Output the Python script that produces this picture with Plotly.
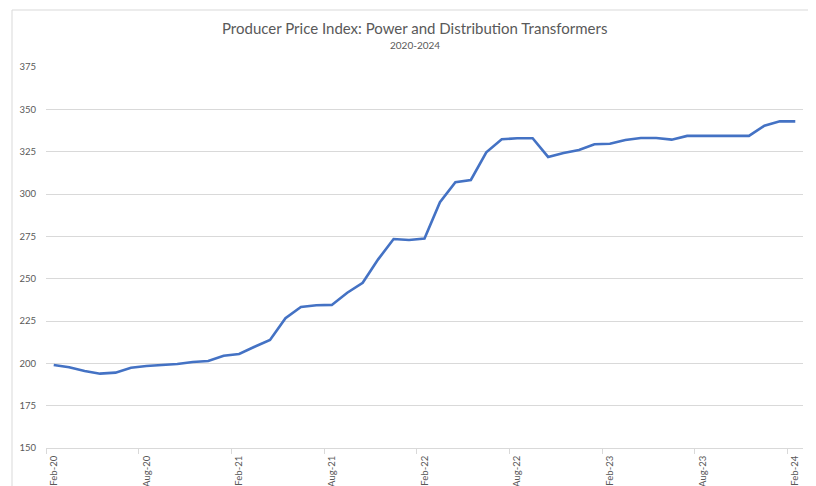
import plotly.graph_objects as go

months = ["Feb-20","Mar-20","Apr-20","May-20","Jun-20","Jul-20","Aug-20","Sep-20","Oct-20","Nov-20","Dec-20","Jan-21",
          "Feb-21","Mar-21","Apr-21","May-21","Jun-21","Jul-21","Aug-21","Sep-21","Oct-21","Nov-21","Dec-21","Jan-22",
          "Feb-22","Mar-22","Apr-22","May-22","Jun-22","Jul-22","Aug-22","Sep-22","Oct-22","Nov-22","Dec-22","Jan-23",
          "Feb-23","Mar-23","Apr-23","May-23","Jun-23","Jul-23","Aug-23","Sep-23","Oct-23","Nov-23","Dec-23","Jan-24",
          "Feb-24"]
ppi = [199.0, 197.7, 195.5, 193.9, 194.5, 197.4, 198.4, 198.8, 199.6, 200.8, 201.4, 204.5,
       205.5, 209.8, 213.8, 226.6, 233.3, 234.3, 234.5, 241.7, 247.6, 261.4, 273.4, 272.8,
       273.7, 295.2, 307.0, 308.3, 324.6, 332.3, 332.9, 332.9, 321.9, 324.2, 326.0, 329.4,
       329.7, 331.9, 333.1, 333.1, 332.1, 334.3, 334.3, 334.3, 334.3, 334.3, 340.3, 342.9,
       342.9]
y_ticks = [150, 175, 200, 225, 250, 275, 300, 325, 350, 375]

idx = list(range(len(months)))
tick_idx = idx[::6]
tick_text = [months[i] for i in tick_idx]

grey = "#595959"
fnt = "Lato"

fig = go.Figure(go.Scatter(x=idx, y=ppi, mode="lines",
                           line=dict(color="#4472C4", width=2.6), hoverinfo="skip"))

fig.update_layout(
    width=816, height=486,
    margin=dict(l=38, r=21, t=59, b=46),
    paper_bgcolor="white", plot_bgcolor="white",
    showlegend=False,
    font=dict(family=fnt, color=grey, size=9),
)
fig.update_xaxes(range=[-0.5, len(months) - 0.5], tickvals=tick_idx, ticktext=tick_text,
                 tickangle=-90, showgrid=False, zeroline=False, automargin=False,
                 showline=True, linecolor="#D9D9D9", linewidth=1,
                 ticks="", ticklabelstandoff=3, tickfont=dict(size=9.5, color=grey),
                 minor=dict(tick0=-0.5, dtick=6, ticks="outside", ticklen=5,
                            tickcolor="#D9D9D9", showgrid=False))
fig.update_yaxes(range=[150, 375], tickvals=y_ticks, showgrid=True, gridcolor="#D9D9D9",
                 gridwidth=1, zeroline=False, showline=False, ticks="", automargin=False,
                 ticklabelstandoff=9, tickfont=dict(size=9.5, color=grey))

fig.add_shape(type="rect", xref="paper", yref="paper",
              x0=-0.0449, x1=1.0132, y0=-0.3, y1=1.1496,
              line=dict(color="#D9D9D9", width=1), layer="below")

fig.add_annotation(text="Producer Price Index: Power and Distribution Transformers",
                   xref="paper", yref="paper", x=0.4868, y=1.102, showarrow=False,
                   xanchor="center", yanchor="middle",
                   font=dict(family=fnt, size=15, color=grey))
fig.add_annotation(text="2020-2024", xref="paper", yref="paper", x=0.4868, y=1.057,
                   showarrow=False, xanchor="center", yanchor="middle",
                   font=dict(family=fnt, size=10, color=grey))

fig.write_html("out.html")
